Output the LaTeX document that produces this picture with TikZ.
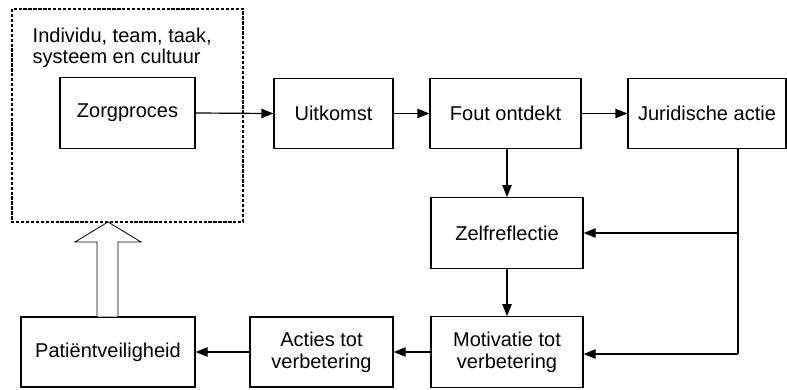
\documentclass[tikz,border=0pt]{standalone}
\usepackage{fontspec}
\setmainfont{Liberation Sans}
\usetikzlibrary{arrows.meta}
\begin{document}
\begin{tikzpicture}[x=0.75pt,y=-0.75pt,
  box/.style={draw,line width=0.9pt,inner sep=0pt,align=center,minimum height=53pt,font=\fontsize{15}{16.5}\selectfont},
  conn/.style={line width=0.9pt,-{Triangle[length=9pt,width=7pt]}},
  plain/.style={line width=0.9pt}]
\useasboundingbox (0,0) rectangle (787,389);
\draw[line width=0.8pt,dash pattern=on 2.5pt off 1.2pt] (12,9) rectangle (243,222);
\node[anchor=base west,align=left,font=\fontsize{15}{15.75}\selectfont] (ctx) at (28,63) {Individu, team, taak,\\systeem en cultuur};
\node[box,minimum width=101.25pt] (zorg) at (127.5,113) {Zorgproces};
\node[box,minimum width=89.25pt] (uit) at (333.5,113.5) {Uitkomst};
\node[box,minimum width=113.25pt] (fout) at (505.5,113.5) {Fout ontdekt};
\node[box,minimum width=118.5pt] (jur) at (707,113.5) {Juridische actie};
\node[box,minimum width=114pt] (zelf) at (507,233) {Zelfreflectie};
\node[box,minimum width=114pt] (mot) at (507,352) {Motivatie tot\\verbetering};
\node[box,minimum width=107.25pt,minimum height=52.5pt] (act) at (321.5,352) {Acties tot\\verbetering};
\node[box,minimum width=130.5pt,minimum height=52.5pt] (pat) at (108,352) {Patiëntveiligheid};
\coordinate (j1) at (738,233);
\coordinate (j2) at (738,354);
\draw[conn] (zorg.east) -- (uit.west);
\draw[conn] (uit.east) -- (fout.west);
\draw[conn] (fout.east) -- (jur.west);
\draw[conn] (fout.south -| zelf.north) -- (zelf.north);
\draw[conn] (zelf.south) -- (mot.north);
\draw[plain] (jur.south -| j1) -- (j2);
\draw[conn] (j1) -- (zelf.east);
\draw[conn] (j2) -- (mot.east |- j2);
\draw[conn] (mot.west) -- (act.east);
\draw[conn] (act.west) -- (pat.east);
\draw[line width=0.6pt,fill=white] (97,316.5) -- (97,242) -- (75,242) -- (108,222) -- (141,242) -- (118,242) -- (118,316.5);
\end{tikzpicture}
\end{document}
